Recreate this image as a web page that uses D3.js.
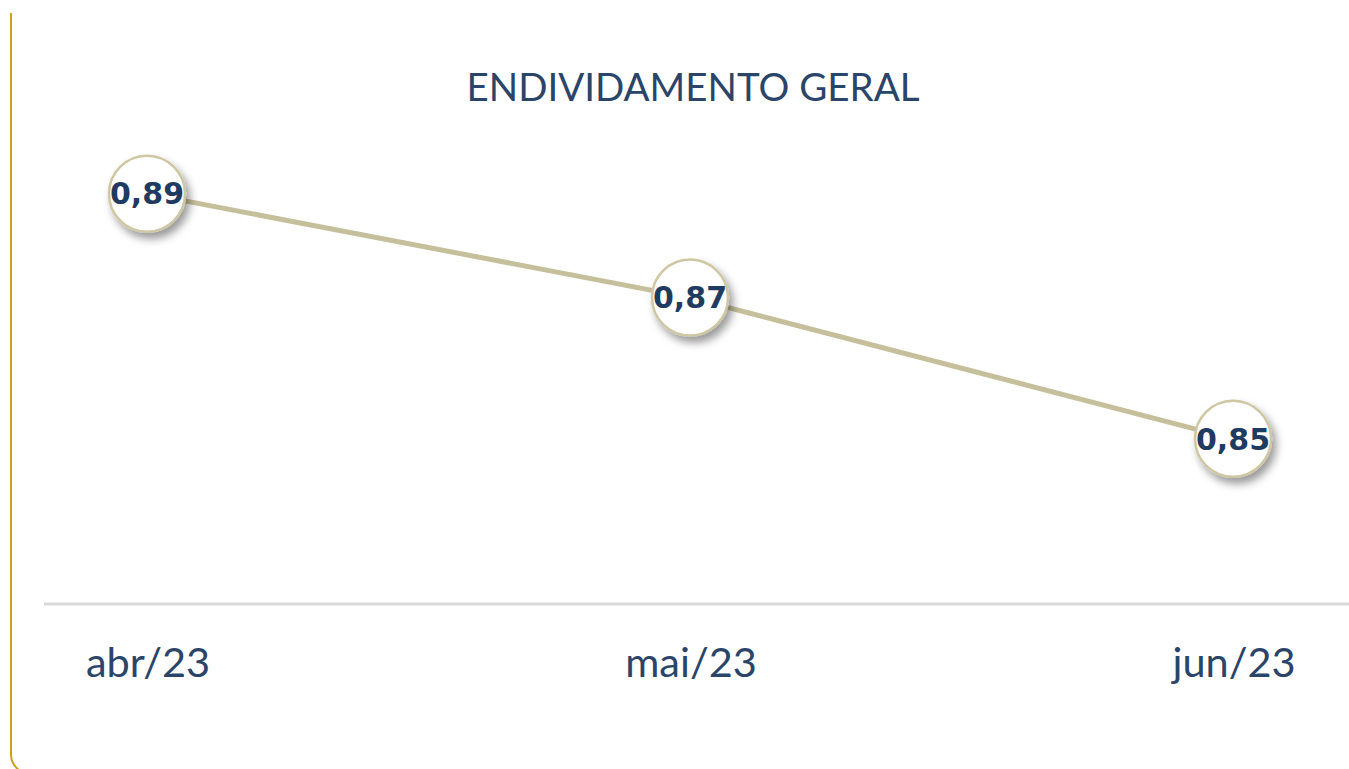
<!DOCTYPE html>
<html>
<head>
<meta charset="utf-8">
<script src="https://cdn.jsdelivr.net/npm/d3@7/dist/d3.min.js"></script>
<style>
  html, body { margin: 0; padding: 0; background: #fff; overflow: hidden; }
  svg { display: block; }
</style>
</head>
<body>
<svg id="canvas" width="1349" height="769"></svg>
<script>
const TITLE = "ENDIVIDAMENTO GERAL";
const months = ["abr/23", "mai/23", "jun/23"];
const values = [0.8915, 0.872, 0.8455];

const W = 1349, H = 769;
const CANVAS = d3.select("#canvas");
const NAVY = "#1f3b60";
const LINE = "#c6bf9b";

// x positions of the months
var x = d3.scalePoint()
  .domain(months)
  .range([147, 1233]);

// y scale, baseline sits at the bottom
var y = d3.scaleLinear()
  .domain([0.8145, 0.895])
  .range([604, 175]);

const defs = CANVAS.append("defs");
const f = defs.append("filter").attr("id", "shadow")
  .attr("x", "-50%").attr("y", "-50%").attr("width", "200%").attr("height", "200%");
f.append("feDropShadow")
  .attr("dx", 4).attr("dy", 6).attr("stdDeviation", 4.5)
  .attr("flood-color", "#000").attr("flood-opacity", 0.4);

// frame: only the left edge shows
CANVAS.append("path")
  .attr("d", "M11,13 V755 Q11,764 20,771")
  .attr("fill", "none")
  .attr("stroke", "#c9a020")
  .attr("stroke-width", 2);

// title
CANVAS.append("text")
  .attr("x", 693).attr("y", 101)
  .attr("text-anchor", "middle")
  .style("font-family", "Lato, 'Open Sans', sans-serif")
  .style("font-size", "38.5px")
  .style("fill", "#2b4569")
  .text(TITLE);

// baseline
CANVAS.append("line")
  .attr("x1", 44).attr("x2", W)
  .attr("y1", y.range()[0]).attr("y2", y.range()[0])
  .style("stroke", "#d9d9d9")
  .style("stroke-width", 3);

// month labels
CANVAS.selectAll(".month")
  .data(months)
  .enter().append("text")
  .attr("class", "month")
  .attr("x", d => x(d) + 1)
  .attr("y", 677)
  .attr("text-anchor", "middle")
  .style("font-family", "Lato, 'Open Sans', sans-serif")
  .style("font-size", "41.5px")
  .style("fill", "#2b4569")
  .text(d => d);

const pts = months.map((m, i) => ({ m: m, v: values[i] }));

// series line
CANVAS.append("path")
  .datum(pts)
  .attr("d", d3.line().x(d => x(d.m)).y(d => y(d.v)))
  .attr("fill", "none")
  .style("stroke", LINE)
  .style("stroke-width", 5);

// markers
var g = CANVAS.selectAll(".pt")
  .data(pts)
  .enter().append("g")
  .attr("class", "pt");

g.append("circle")
  .attr("cx", d => x(d.m))
  .attr("cy", d => y(d.v))
  .attr("r", 38)
  .attr("fill", "#fff")
  .attr("stroke", "#cfc7a3")
  .attr("stroke-width", 2.5)
  .attr("filter", "url(#shadow)");

g.append("text")
  .attr("x", d => x(d.m))
  .attr("y", d => y(d.v))
  .attr("dy", "0.36em")
  .attr("text-anchor", "middle")
  .style("font-family", "'DejaVu Sans', sans-serif")
  .style("font-weight", "bold")
  .style("font-size", "30px")
  .style("fill", NAVY)
  .text(d => d3.format(".2f")(d.v).replace(".", ","));
</script>
</body>
</html>
